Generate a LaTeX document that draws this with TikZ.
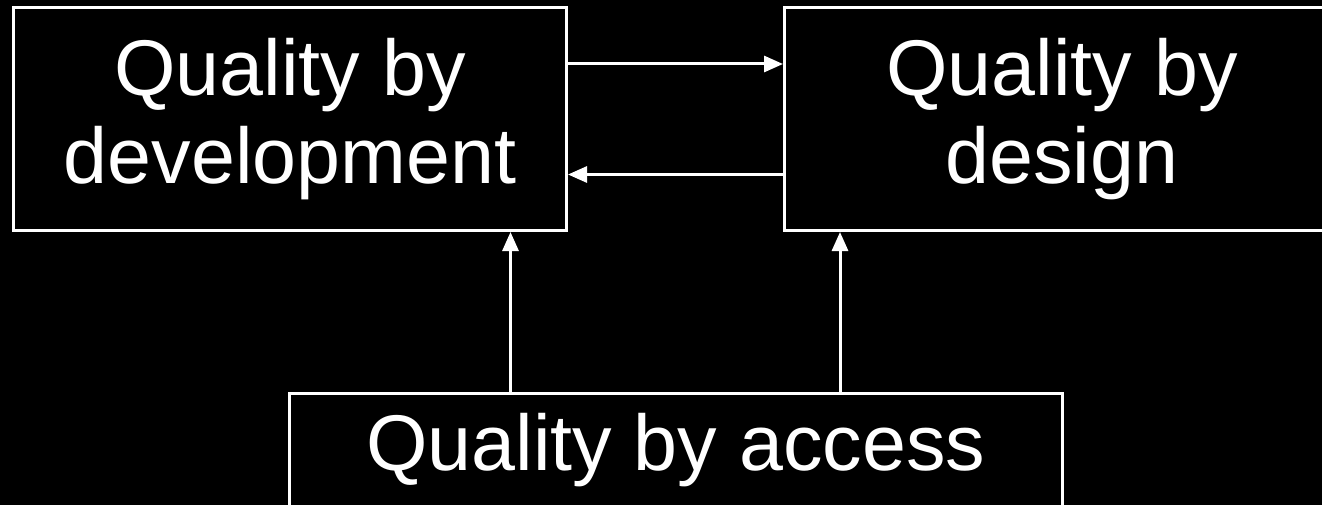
\documentclass[tikz,border=0pt]{standalone}
\usepackage{fontspec}
\setmainfont{Liberation Sans}
\usetikzlibrary{arrows.meta}
\begin{document}
\begin{tikzpicture}[x=1pt,y=-1pt,
  qbox/.style={draw=white, line width=3pt, rectangle, inner sep=0pt,
    align=center, text=white, font=\fontsize{79}{88}\selectfont},
  arr/.style={draw=white, line width=3pt, -{Triangle[length=19pt,width=16pt]}}]
\useasboundingbox (0,0) rectangle (1322,505);
\clip (0,0) rectangle (1322,505);
\fill[black] (0,0) rectangle (1322,505);
\node[qbox, minimum width=553pt, minimum height=223pt] (dev) at (290,119) {Quality by\\development};
\node[qbox, minimum width=555pt, minimum height=223pt] (des) at (1062,119) {Quality by\\design};
\node[qbox, minimum width=773.5pt, minimum height=113pt] (acc) at (675.75,450) {Quality by access};
\draw[arr] ([yshift=55pt]dev.east) -- ([yshift=55pt]des.west);
\draw[arr] ([yshift=-55.5pt]des.west) -- ([yshift=-55.5pt]dev.east);
\draw[arr] ([xshift=-165.25pt]acc.north) -- ([xshift=-165.25pt]acc.north |- dev.south);
\draw[arr] ([xshift=164.25pt]acc.north) -- ([xshift=164.25pt]acc.north |- des.south);
\end{tikzpicture}
\end{document}
